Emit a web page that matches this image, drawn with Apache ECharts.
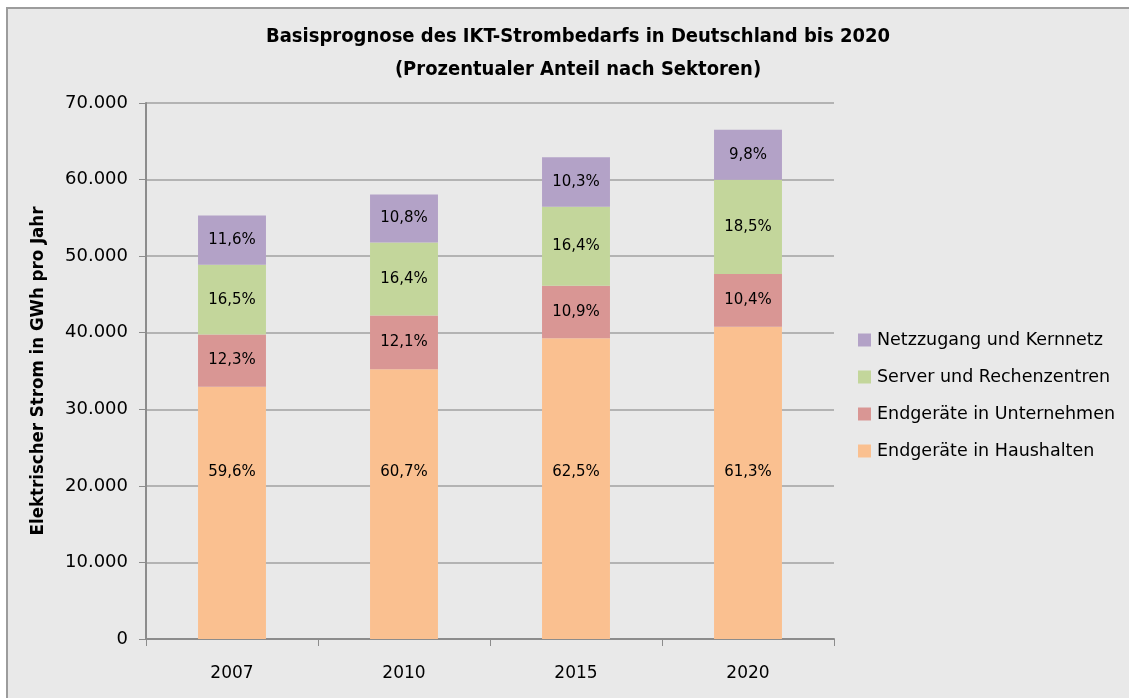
<!DOCTYPE html>
<html>
<head>
<meta charset="utf-8">
<script src="https://cdn.jsdelivr.net/npm/echarts@6/dist/echarts.min.js"></script>
<style>
  html, body { margin: 0; padding: 0; background: #ffffff; }
  #frame {
    position: absolute; left: 6px; top: 7px; width: 1140px; height: 710px;
    background: #e9e9e9; border: 2px solid #9c9c9c; box-sizing: border-box;
  }
  #chart { position: absolute; left: 0; top: 0; width: 1129px; height: 698px; }
</style>
</head>
<body>
<div id="frame"></div>
<div id="chart"></div>
<script>
// Jahre der Prognose
const years = ['2007', '2010', '2015', '2020'];
// Gesamtbedarf je Jahr in GWh
const totals = [55300, 58050, 62850, 66500];
// Anteile der Sektoren in Prozent
const shareHaushalte   = [59.6, 60.7, 62.5, 61.3];
const shareUnternehmen = [12.3, 12.1, 10.9, 10.4];
const shareServer      = [16.5, 16.4, 16.4, 18.5];
const shareNetz        = [11.6, 10.8, 10.3, 9.8];

const sectors = [
  { name: 'Endgeräte in Haushalten',   shares: shareHaushalte,   color: '#fac090', lowLabel: true },
  { name: 'Endgeräte in Unternehmen',  shares: shareUnternehmen, color: '#d99694' },
  { name: 'Server und Rechenzentren',  shares: shareServer,      color: '#c3d69b' },
  { name: 'Netzzugang und Kernnetz',   shares: shareNetz,        color: '#b3a2c7' }
];

const fmtThousands = v => String(v).replace(/\B(?=(\d{3})+(?!\d))/g, '.');
const fmtPct = v => v.toFixed(1).replace('.', ',') + '%';

const series = sectors.map(s => {
  const item = {
    name: s.name,
    type: 'bar',
    stack: 'gesamt',
    barWidth: '39.5%',
    itemStyle: { color: s.color },
    label: {
      show: true,
      position: 'inside',
      color: '#000',
      fontFamily: 'DejaVu Sans',
      fontSize: 15,
      formatter: p => fmtPct(s.shares[p.dataIndex])
    },
    data: totals.map((t, i) => t * s.shares[i] / 100)
  };
  // Beschriftung des großen unteren Segments sitzt in fester Höhe über der Achse
  if (s.lowLabel) {
    item.labelLayout = p => ({
      x: p.rect.x + p.rect.width / 2,
      y: p.rect.y + p.rect.height - 167,
      align: 'center',
      verticalAlign: 'middle'
    });
  }
  return item;
});

const chart = echarts.init(document.getElementById('chart'), null, { renderer: 'canvas' });
chart.setOption({
  backgroundColor: 'transparent',
  animation: false,
  title: {
    text: 'Basisprognose des IKT-Strombedarfs in Deutschland bis 2020\n(Prozentualer Anteil nach Sektoren)',
    left: 573, top: 15, textAlign: 'center',
    textStyle: {
      fontFamily: 'DejaVu Sans Condensed', fontWeight: 'bold', fontSize: 20,
      color: '#000', lineHeight: 33
    }
  },
  legend: {
    orient: 'vertical',
    left: 858, top: 331, padding: 0,
    itemWidth: 13, itemHeight: 13, itemGap: 19,
    icon: 'rect',
    data: ['Netzzugang und Kernnetz', 'Server und Rechenzentren', 'Endgeräte in Unternehmen', 'Endgeräte in Haushalten'],
    textStyle: { fontFamily: 'DejaVu Sans', fontSize: 17.5, color: '#000', padding: [0, 0, 0, 1] }
  },
  grid: { left: 146, right: 295, top: 103, bottom: 59, containLabel: false },
  xAxis: {
    type: 'category',
    data: years,
    axisLine: { lineStyle: { color: '#8c8c8c', width: 2 } },
    axisTick: { show: true, alignWithLabel: false, length: 7, lineStyle: { color: '#8c8c8c', width: 1 } },
    axisLabel: { margin: 26, fontFamily: 'DejaVu Sans', fontSize: 17, color: '#000' }
  },
  yAxis: {
    type: 'value',
    min: 0, max: 70000, interval: 10000,
    name: 'Elektrischer Strom in GWh pro Jahr',
    nameLocation: 'middle', nameGap: 98, nameRotate: 90,
    nameTextStyle: { fontFamily: 'DejaVu Sans Condensed', fontWeight: 'bold', fontSize: 18.5, color: '#000' },
    axisLine: { show: true, lineStyle: { color: '#8c8c8c', width: 2 } },
    axisTick: { show: true, length: 7, lineStyle: { color: '#8c8c8c' } },
    axisLabel: { margin: 18, fontFamily: 'DejaVu Sans', fontSize: 18, color: '#000', formatter: fmtThousands },
    splitLine: { lineStyle: { color: '#a0a0a0', width: 1.5 } }
  },
  series: series
});
</script>
</body>
</html>
